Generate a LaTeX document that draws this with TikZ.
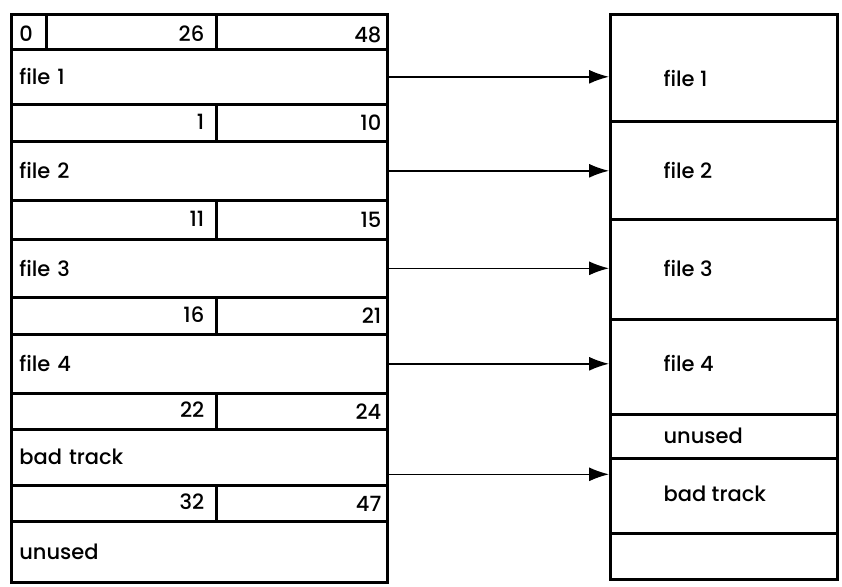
\documentclass[tikz,border=0pt]{standalone}
\usepackage{fontspec}
\setmainfont{Poppins}[UprightFont={* Medium}]
\usetikzlibrary{arrows.meta,positioning}

\begin{document}
\begin{tikzpicture}[x=1pt,y=-1pt,
  cell/.style={draw,line width=2.6pt,anchor=north west,inner ysep=0pt,font=\fontsize{21}{25}\selectfont},
  fcell/.style={cell,align=left,inner xsep=8pt,text width=360pt},
  ncell/.style={cell,align=right,inner xsep=#1,text height=13pt},
  ncell/.default=6pt,
  lbl/.style={anchor=west,font=\fontsize{21}{25}\selectfont},
  arr/.style={-{Latex[length=20pt,width=14pt]},line width=1.5pt}]
  \useasboundingbox (0,0) rectangle (842,586);

  % directory track (left)
  \node[ncell=8pt,text width=19pt,align=left,minimum height=35pt,text height=19pt] (n0) at (10,13) {0};
  \node[ncell=12pt,text width=146pt,minimum height=35pt,text height=19pt] (n0a) at (45,13) {26};
  \node[ncell,text width=159pt,minimum height=35pt,text height=21pt] (n0b) at (215,13) {48};
  \foreach \top/\hgt/\ha/\hb [count=\i] in {103/37/1/10, 199/39/11/15, 296/37/16/21, 392/36/22/24, 484/36/32/47} {
    \node[ncell=12pt,text width=181pt,minimum height=\hgt pt] (n\i a) at (10,\top) {\ha};
    \node[ncell,text width=159pt,minimum height=\hgt pt,text height=16pt] (n\i b) at (215,\top) {\hb};
  }
  \node[fcell,minimum height=55pt] (lf1) at (10,48) {file 1};
  \node[fcell,minimum height=59pt] (lf2) at (10,140) {file 2};
  \node[fcell,minimum height=58pt] (lf3) at (10,238) {file 3};
  \node[fcell,minimum height=59pt] (lf4) at (10,333) {file 4};
  \node[fcell,minimum height=56pt] (lbad) at (10,428) {bad track};
  \node[fcell,minimum height=61pt] (lun) at (10,520) {unused};

  % disk layout (right)
  \node[cell,minimum width=227pt,minimum height=107pt] (rf1) at (609,13) {};
  \node[cell,minimum width=227pt,minimum height=98pt] (rf2) at (609,120) {};
  \node[cell,minimum width=227pt,minimum height=100pt] (rf3) at (609,218) {};
  \node[cell,minimum width=227pt,minimum height=95pt] (rf4) at (609,318) {};
  \node[cell,minimum width=227pt,minimum height=44pt] (run) at (609,413) {};
  \node[cell,minimum width=227pt,minimum height=75pt] (rbad) at (609,457) {};
  \node[cell,minimum width=227pt,minimum height=46pt] (rend) at (609,532) {};

  \node[lbl] (t1) at ([xshift=51pt,yshift=-2pt]rf1.west |- lf1.east) {file 1};
  \node[lbl] (t2) at ([xshift=51pt]rf2.west |- lf2.east) {file 2};
  \node[lbl] (t3) at ([xshift=51pt]rf3.west |- lf3.east) {file 3};
  \node[lbl] (t4) at ([xshift=51pt]rf4.west |- lf4.east) {file 4};
  \node[lbl] (tu) at ([xshift=51pt]run.west) {unused};
  \node[lbl] (tb) at ([xshift=51pt,yshift=2pt]rbad.west) {bad track};

  % pointers
  \coordinate (bt) at ([yshift=-17pt]lbad.east);
  \draw[arr] (lf1.east) -- (lf1.east -| rf1.west);
  \draw[arr] (lf2.east) -- (lf2.east -| rf2.west);
  \draw[arr] (lf3.east) -- (lf3.east -| rf3.west);
  \draw[arr] (lf4.east) -- (lf4.east -| rf4.west);
  \draw[arr] (bt) -- (bt -| rbad.west);
\end{tikzpicture}
\end{document}
